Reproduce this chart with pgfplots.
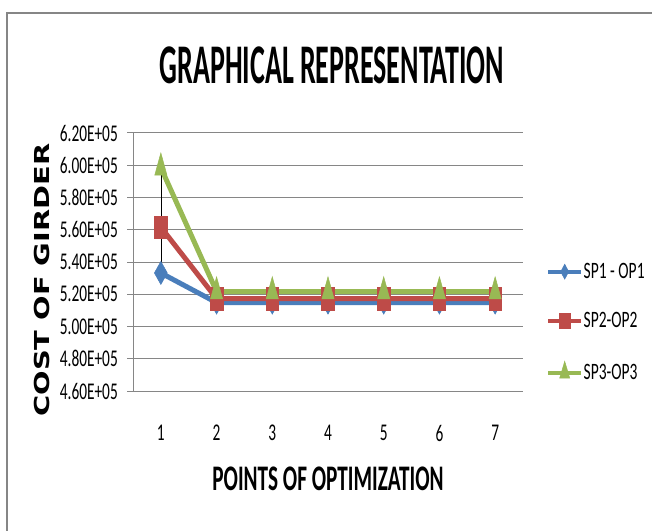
\documentclass[border=0pt]{standalone}
\usepackage{fontspec}
\setmainfont{Carlito}
\newfontfamily\tickfont{Carlito}[FakeStretch=0.64]
\newfontfamily\legfont{Carlito}[FakeStretch=0.66]
\newfontfamily\titlefont{Carlito}[FakeStretch=0.5]
\newfontfamily\xlabfont{Carlito}[FakeStretch=0.59]
\newfontfamily\ylabfont{DejaVu Sans}[FakeStretch=1.4]
\usepackage{pgfplots}
\pgfplotsset{compat=1.18}
\definecolor{cblue}{HTML}{4A7EBB}
\definecolor{cred}{HTML}{BE4B48}
\definecolor{cgreen}{HTML}{98B954}
\definecolor{cgrid}{HTML}{868686}
\begin{document}
\begin{tikzpicture}
\useasboundingbox (0pt,0pt) rectangle (652pt,530pt);
\fill[white] (0pt,0pt) rectangle (652pt,530pt);
\draw[cgrid, line width=1.5pt] (7pt,-2pt) -- (7pt,517pt) -- (660pt,517pt);
\begin{axis}[
  at={(133pt,139pt)}, anchor=south west,
  scale only axis, width=390pt, height=258pt,
  xmin=0.5, xmax=7.5, ymin=460000, ymax=620000,
  xtick={1,2,3,4,5,6,7},
  ytick={460000,480000,500000,520000,540000,560000,580000,600000,620000},
  yticklabels={4.60E+05,4.80E+05,5.00E+05,5.20E+05,5.40E+05,5.60E+05,5.80E+05,6.00E+05,6.20E+05},
  scaled y ticks=false,
  /pgf/number format/assume math mode=true,
  axis x line=bottom, axis y line=left,
  axis line style={-, draw=cgrid, line width=1pt},
  ymajorgrids, grid style={cgrid, line width=1pt},
  xtick style={draw=none}, ytick style={cgrid, line width=1pt},
  tick align=outside, major tick length=6pt,
  yticklabel style={font=\tickfont\fontsize{24}{24}\selectfont, anchor=east, inner sep=0pt, xshift=-9pt},
  xticklabel style={font=\tickfont\fontsize{24}{24}\selectfont, anchor=north, inner sep=0pt, yshift=-28pt},
  title={GRAPHICAL REPRESENTATION},
  title style={at={(axis description cs:0.51,1.24)}, anchor=center, font=\titlefont\bfseries\fontsize{56}{56}\selectfont},
  xlabel={POINTS OF OPTIMIZATION},
  xlabel style={at={(axis description cs:0.5,-0.341)}, anchor=center, font=\xlabfont\bfseries\fontsize{36}{36}\selectfont},
  ylabel={COST OF GIRDER},
  ylabel style={at={(axis description cs:-0.233,0.43)}, anchor=center, font=\ylabfont\bfseries\fontsize{20.6}{20.6}\selectfont},
  legend style={at={(axis description cs:1.059,0.267)}, anchor=west, draw=none, fill=none,
    font=\legfont\fontsize{23.5}{23.5}\selectfont, row sep=31.5pt, inner sep=0pt,
    nodes={inner sep=0.5pt}},
  legend cell align=left,
  clip=false,
]
\addplot[cblue, line width=5pt, mark=diamond*, mark size=11.5pt, mark options={xscale=0.75, solid, fill=cblue, line width=0.5pt},
  legend image code/.code={\draw[line width=4pt] (0pt,0pt) -- (33pt,0pt);
    \draw[mark options={xscale=0.46, yscale=0.65, solid, fill=cblue, line width=0.5pt}] plot[mark=diamond*, mark size=11.5pt] coordinates {(16.5pt,0pt)};}]
  coordinates {(1,533200) (2,514800) (3,514800) (4,514800) (5,514800) (6,514800) (7,514800)};
\addlegendentry{SP1 - OP1}
\addplot[cred, line width=5pt, mark=square*, mark size=6.3pt, mark options={yscale=1.8, solid, fill=cred, line width=0.5pt},
  legend image code/.code={\draw[line width=4pt] (0pt,0pt) -- (33pt,0pt);
    \draw[mark options={xscale=0.8, yscale=1.19, solid, fill=cred, line width=0.5pt}] plot[mark=square*, mark size=6.3pt] coordinates {(16.5pt,0pt)};}]
  coordinates {(1,561600) (2,517300) (3,517300) (4,517300) (5,517300) (6,517300) (7,517300)};
\addlegendentry{SP2-OP2}
\addplot[cgreen, line width=5pt, mark=triangle*, mark size=7pt, mark options={yscale=2.1, solid, fill=cgreen, line width=0.5pt},
  legend image code/.code={\draw[line width=4pt] (0pt,0pt) -- (33pt,0pt);
    \draw[mark options={xscale=0.83, yscale=1.6, solid, fill=cgreen, line width=0.5pt}] plot[mark=triangle*, mark size=7pt] coordinates {(16.5pt,0pt)};}]
  coordinates {(1,598500) (2,521700) (3,521700) (4,521700) (5,521700) (6,521700) (7,521700)};
\addlegendentry{SP3-OP3}
\addplot[forget plot, draw=none, mark=none,
  error bars/.cd, y dir=plus, y explicit,
  error bar style={draw=black, line width=0.6pt, solid}, error mark=none]
  coordinates {(1,533200) +- (0,65300) (2,514800) +- (0,6900) (3,514800) +- (0,6900)
    (4,514800) +- (0,6900) (5,514800) +- (0,6900) (6,514800) +- (0,6900) (7,514800) +- (0,6900)};
\end{axis}
\end{tikzpicture}
\end{document}
